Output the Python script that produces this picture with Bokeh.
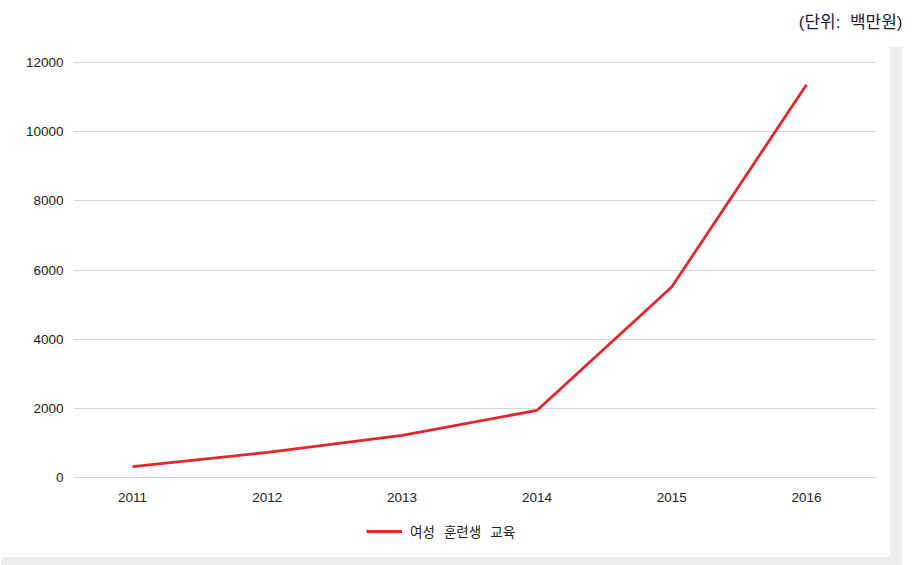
from bokeh.plotting import figure
from bokeh.models import (ColumnDataSource, Legend, LegendItem, Title, FixedTicker, Range1d)
from bokeh.embed import file_html
from bokeh.resources import INLINE

# ---- data ----
years = ["2011", "2012", "2013", "2014", "2015", "2016"]
values = [330, 740, 1230, 1950, 5510, 11350]
y_ticks = [0, 2000, 4000, 6000, 8000, 10000, 12000]
series_name = "여성\u00a0\u00a0\u00a0훈련생\u00a0\u00a0\u00a0교육"
unit_text = "(단위:\u00a0\u00a0백만원)"

idx = list(range(len(years)))
src = ColumnDataSource(dict(x=idx, y=values))

TICK_FONT = "'Liberation Sans', Arial, sans-serif"
KR_FONT = "'Noto Sans CJK KR', sans-serif"
TITLE_FONT = "'Liberation Sans', 'Noto Sans CJK KR', sans-serif"
GRAY = "#efefef"

p = figure(width=912, height=565, output_backend="svg", toolbar_location=None,
           x_range=Range1d(-0.438, 5.512), y_range=Range1d(-1833, 12626),
           min_border_left=73, min_border_right=37, min_border_top=40,
           min_border_bottom=24)
p.background_fill_color = "white"
p.border_fill_color = None
p.outline_line_color = None
p.styles = {
    "background-color": "white",
    "background-image": f"linear-gradient({GRAY},{GRAY}), linear-gradient({GRAY},{GRAY})",
    "background-size": "12px 518px, 901px 8px",
    "background-position": "890px 47px, 1px 557px",
    "background-repeat": "no-repeat",
}

r = p.line("x", "y", source=src, line_color="#e2262b", line_width=2.8)

# axes
p.xaxis.ticker = FixedTicker(ticks=idx)
p.xaxis.major_label_overrides = {i: y for i, y in zip(idx, years)}
p.xaxis.fixed_location = 0
p.yaxis.ticker = FixedTicker(ticks=y_ticks)
for ax in (p.xaxis, p.yaxis):
    ax.axis_line_color = None
    ax.major_tick_line_color = None
    ax.minor_tick_line_color = None
    ax.major_tick_in = 0
    ax.major_tick_out = 0
    ax.major_label_text_font = TICK_FONT
    ax.major_label_text_font_size = "13.5px"
    ax.major_label_text_color = "#222222"
p.xaxis.major_label_standoff = 15
p.yaxis.major_label_standoff = 10

p.xgrid.grid_line_color = None
p.ygrid.grid_line_color = "#d6d6d6"
p.ygrid.grid_line_width = 1

# legend (inside the lower part of the frame)
legend = Legend(items=[LegendItem(label=series_name, renderers=[r])],
                location=(293, 0), orientation="horizontal",
                padding=0, margin=0, border_line_color=None,
                background_fill_alpha=0, glyph_width=36, glyph_height=14,
                label_height=14, label_standoff=8,
                label_text_font=KR_FONT, label_text_font_size="13.5px",
                label_text_color="#222222")
p.add_layout(legend, "center")

# unit text, top right
p.add_layout(Title(text=unit_text, align="right", offset=-27, standoff=17,
                   text_font=TITLE_FONT, text_font_size="17px",
                   text_font_style="normal", text_color="#1c1c38"), "above")

open("out.html", "w").write(file_html(p, INLINE))
